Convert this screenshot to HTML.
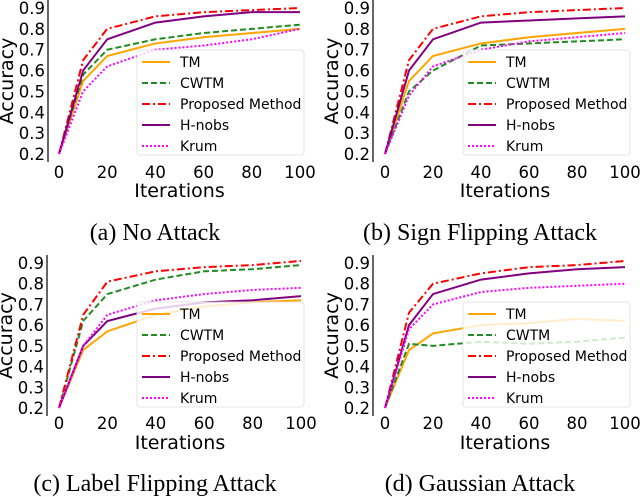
<!DOCTYPE html>
<html><head><meta charset="utf-8"><style>
html,body{margin:0;padding:0;background:#fff;}
svg{display:block;font-family:"DejaVu Sans","Liberation Sans",sans-serif;}
.cap{font-family:"Liberation Serif",serif;font-size:24px;}
</style></head><body>
<svg id="fig" width="640" height="497" viewBox="0 0 640 497"></svg>
<script>
const iterations=[0,10,20,40,60,80,100];
const xTicks=[0,20,40,60,80,100];
const yTicks=[0.2,0.3,0.4,0.5,0.6,0.7,0.8,0.9];
const seriesNames=["TM","CWTM","Proposed Method","H-nobs","Krum"];
const captions=["(a) No Attack","(b) Sign Flipping Attack","(c) Label Flipping Attack","(d) Gaussian Attack"];
const aTM=[0.2,0.55,0.67,0.73,0.76,0.78,0.80];
const aCWTM=[0.2,0.58,0.70,0.75,0.78,0.80,0.82];
const aProp=[0.2,0.65,0.80,0.86,0.88,0.89,0.90];
const aHnobs=[0.2,0.60,0.75,0.83,0.86,0.88,0.88];
const aKrum=[0.2,0.50,0.62,0.70,0.72,0.75,0.80];
const bTM=[0.2,0.55,0.67,0.73,0.76,0.78,0.80];
const bCWTM=[0.2,0.50,0.60,0.72,0.73,0.74,0.75];
const bProp=[0.2,0.65,0.80,0.86,0.88,0.89,0.90];
const bHnobs=[0.2,0.60,0.75,0.83,0.84,0.85,0.86];
const bKrum=[0.2,0.48,0.62,0.70,0.74,0.76,0.78];
const cTM=[0.2,0.48,0.57,0.65,0.69,0.71,0.72];
const cCWTM=[0.2,0.62,0.75,0.82,0.86,0.87,0.89];
const cProp=[0.2,0.65,0.81,0.86,0.88,0.89,0.91];
const cHnobs=[0.2,0.50,0.62,0.68,0.71,0.72,0.74];
const cKrum=[0.2,0.50,0.65,0.72,0.75,0.77,0.78];
const dTM=[0.2,0.48,0.56,0.60,0.61,0.63,0.62];
const dCWTM=[0.2,0.51,0.50,0.52,0.51,0.52,0.54];
const dProp=[0.2,0.66,0.80,0.85,0.88,0.89,0.91];
const dHnobs=[0.2,0.60,0.75,0.82,0.85,0.87,0.88];
const dKrum=[0.2,0.58,0.70,0.76,0.78,0.79,0.80];
const panelData=[[aTM,aCWTM,aProp,aHnobs,aKrum],[bTM,bCWTM,bProp,bHnobs,bKrum],[cTM,cCWTM,cProp,cHnobs,cKrum],[dTM,dCWTM,dProp,dHnobs,dKrum]];
const styles=[
 {c:"#ffa500",w:2,d:""},
 {c:"#228b22",w:2,d:"6,3"},
 {c:"#ff0000",w:2,d:"8,3,2,3"},
 {c:"#800080",w:2,d:""},
 {c:"#ff00ff",w:2,d:"2,2"}];
const panels=[
 {ax:48,x0:59,x1:300,yt:8,yb:154,lx:137,ly:50,cx:155,tickY:172,xlY:190,capY:232},
 {ax:373,x0:385,x1:625,yt:8,yb:154,lx:463,ly:50,cx:480,tickY:172,xlY:190,capY:232},
 {ax:47,x0:59,x1:301,yt:263,yb:408,lx:137,ly:302,cx:155,tickY:423,xlY:442,capY:483},
 {ax:373,x0:385,x1:625,yt:263,yb:408,lx:463,ly:302,cx:480,tickY:423,xlY:442,capY:483}];
const NS="http://www.w3.org/2000/svg";
const svg=document.getElementById('fig');
function mk(tag,attrs,parent,text){const e=document.createElementNS(NS,tag);for(const k in attrs)e.setAttribute(k,attrs[k]);if(text!==undefined)e.textContent=text;(parent||svg).appendChild(e);return e;}
panels.forEach((p,pi)=>{
 const g=mk('g',{});
 
 
 const sx=v=>p.x0+(v-0)/(100-0)*(p.x1-p.x0);
 const sy=v=>p.yb-(v-0.2)/(0.9-0.2)*(p.yb-p.yt);
 const axis=mk('line',{x1:p.ax,x2:p.ax,y1:p.yt-8,y2:p.yb+8,stroke:'#000','stroke-width':1.2},g);
 
 
 yTicks.forEach(t=>{
  const tl=mk('text',{x:p.ax-3,y:sy(t)+6,'text-anchor':'end','font-size':16.5},g,t.toFixed(1));
  
  
 });
 xTicks.forEach(t=>{
  const tl=mk('text',{x:sx(t),y:p.tickY+6,'text-anchor':'middle','font-size':16.5},g,String(t));
  
  
 });
 const xl=mk('text',{x:(p.x0+p.x1)/2,y:p.xlY+7,'text-anchor':'middle','font-size':19},g,'Iterations');
 
 
 const ym=(p.yt+p.yb)/2;
 const yl=mk('text',{x:p.ax-35,y:ym,'text-anchor':'middle','font-size':19,transform:`rotate(-90 ${p.ax-35} ${ym})`},g,'Accuracy');
 
 
 panelData[pi].forEach((vals,si)=>{
  const s=styles[si];
  const pts=vals.map((v,i)=>sx(iterations[i])+','+sy(v)).join(' ');
  const pl=mk('polyline',{points:pts,fill:'none',stroke:s.c,'stroke-width':s.w,'stroke-dasharray':s.d},g);
  
  
 });
 const lg=mk('g',{},g);
 
 
 mk('rect',{x:p.lx,y:p.ly,width:167,height:105,rx:3,fill:'#fff','fill-opacity':0.8,stroke:'#ddd','stroke-width':0.8},lg);
 seriesNames.forEach((n,si)=>{
  const s=styles[si];const yy=p.ly+12+si*21;
  mk('line',{x1:p.lx+5,x2:p.lx+33,y1:yy,y2:yy,stroke:s.c,'stroke-width':2,'stroke-dasharray':s.d},lg);
  const t=mk('text',{x:p.lx+43,y:yy+5,'font-size':14},lg,n);
  
  
 });
 const cap=mk('text',{x:p.cx,y:p.capY+8,'text-anchor':'middle',class:'cap'},g,captions[pi]);
 
 
});
</script>
</body></html>
